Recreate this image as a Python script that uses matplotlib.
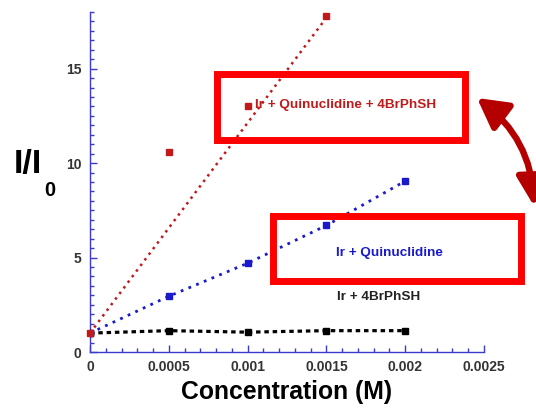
import matplotlib
matplotlib.use('Agg')
import matplotlib.pyplot as plt
from matplotlib.patches import Rectangle, FancyArrowPatch
import numpy as np

plt.rcParams['font.family'] = ['Liberation Sans', 'DejaVu Sans']
plt.rcParams['font.weight'] = 'bold'

# data
conc = [0, 0.0005, 0.001, 0.0015, 0.002]
quin_4br = [1.0, 10.6, 13.0, 17.8]          # Ir + Quinuclidine + 4BrPhSH
quin = [1.0, 2.95, 4.7, 6.7, 9.05]          # Ir + Quinuclidine
br = [1.0, 1.13, 1.05, 1.13, 1.13]          # Ir + 4BrPhSH
fit_x = [0, 0.0015]
fit_y = [1.0, 17.7]

x_ticks = [0, 0.0005, 0.001, 0.0015, 0.002, 0.0025]
x_tick_labels = ['0', '0.0005', '0.001', '0.0015', '0.002', '0.0025']
y_ticks = [0, 5, 10, 15]

W, H = 536, 413
red = '#c01a1a'
blue = '#1a1acc'
axis_blue = '#3a3acc'

fig = plt.figure(figsize=(W / 100, H / 100), dpi=100)
ax = fig.add_axes([90 / W, (H - 352) / H, 394 / W, 340 / H])

def px(x, y):
    # pixel position (from top-left) to figure fraction
    return x / W, (H - y) / H

ax.plot(conc, br, color='black', lw=2.3, linestyle=(0, (1.4, 1.2)),
        marker='s', ms=5, zorder=3)
ax.plot(conc, quin, color=blue, lw=2.0, linestyle=(0, (1, 2)),
        marker='s', ms=5, zorder=3)
ax.plot(fit_x, fit_y, color=red, lw=1.8, linestyle=(0, (1, 1.8)), zorder=3)
ax.plot(conc[:len(quin_4br)], quin_4br, color=red, lw=0, marker='s', ms=5,
        zorder=4, clip_on=False)

ax.set_xlim(0, 0.0025)
ax.set_ylim(0, 18)
ax.set_xticks(x_ticks)
ax.set_xticklabels(x_tick_labels)
ax.set_yticks(y_ticks)
ax.set_xticks(np.arange(0, 0.00251, 0.0001), minor=True)
ax.set_yticks(np.arange(0, 18.01, 0.5), minor=True)

for s in ['top', 'right']:
    ax.spines[s].set_visible(False)
for s in ['left', 'bottom']:
    ax.spines[s].set_color(axis_blue)
    ax.spines[s].set_linewidth(1.0)
ax.tick_params(which='both', direction='in', color=axis_blue, width=1.0)
ax.tick_params(which='major', length=5, pad=6, labelsize=10, labelcolor='#333333')
ax.tick_params(which='minor', length=2.8)
for lab in ax.get_xticklabels() + ax.get_yticklabels():
    lab.set_fontweight('bold')

fig.text(*px(287, 392), 'Concentration (M)', fontsize=17.8, fontweight='bold',
         ha='center', va='center')
fig.text(*px(28, 165), 'I/I', fontsize=24.5, fontweight='bold',
         ha='center', va='center')
fig.text(*px(49.5, 190), '0', fontsize=14.5, fontweight='bold',
         ha='center', va='center')

fig.text(*px(255, 105), 'Ir + Quinuclidine + 4BrPhSH', color=red,
         fontsize=9.7, fontweight='bold', ha='left', va='center')
fig.text(*px(336, 253), 'Ir + Quinuclidine', color=blue,
         fontsize=9.7, fontweight='bold', ha='left', va='center')
fig.text(*px(337, 297), 'Ir + 4BrPhSH', color='#222222',
         fontsize=9.7, fontweight='bold', ha='left', va='center')

# highlight boxes
for (l, t, r, b) in [(216.5, 74, 464.5, 140), (273, 215.5, 521, 281)]:
    x0, y0 = px(l, b)
    x1, y1 = px(r, t)
    fig.patches.append(Rectangle((x0, y0), x1 - x0, y1 - y0, fill=False,
                                 edgecolor='#ff0000', lw=5,
                                 transform=fig.transFigure, zorder=5))

arrow = FancyArrowPatch(px(477, 98), px(534, 206),
                        transform=fig.transFigure,
                        connectionstyle='arc3,rad=-0.24',
                        arrowstyle='<|-|>,head_length=1.0,head_width=0.55',
                        mutation_scale=18, lw=4.6, color='#b50000',
                        shrinkA=0, shrinkB=0, zorder=6)
fig.patches.append(arrow)

fig.savefig('out.png', dpi=100)
